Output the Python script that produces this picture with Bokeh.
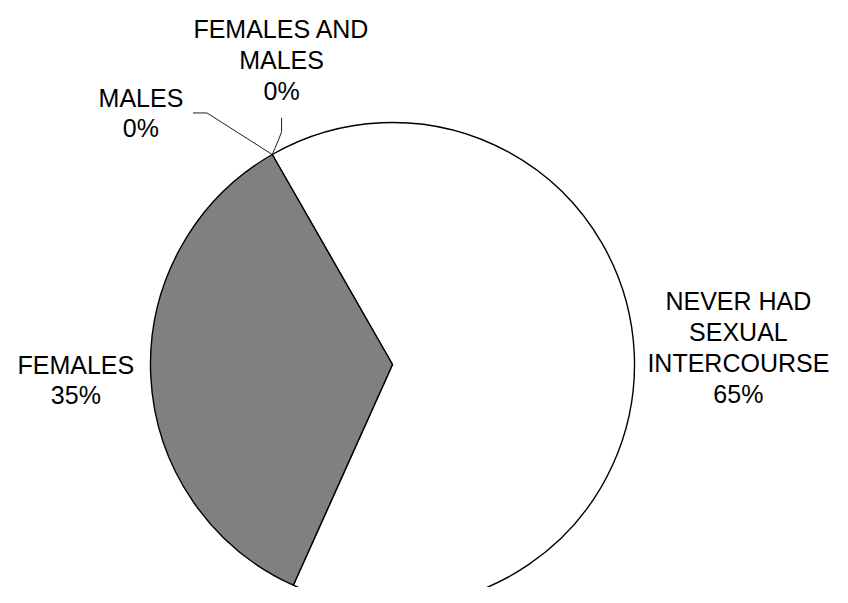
import numpy as np
from bokeh.plotting import figure
from bokeh.models import Range1d, ColumnDataSource
from bokeh.core.properties import value
from bokeh.embed import file_html
from bokeh.resources import INLINE

# ---- data ----
categories = ["NEVER HAD SEXUAL INTERCOURSE", "FEMALES", "MALES", "FEMALES AND MALES"]
label_lines = ["NEVER HAD\nSEXUAL\nINTERCOURSE", "FEMALES", "MALES", "FEMALES AND\nMALES"]
values = [65, 35, 0, 0]
pct_labels = ["65%", "35%", "0%", "0%"]

# ---- style / layout ----
colors = ["#FFFFFF", "#808080", "#808080", "#808080"]
first_slice_deg = 119.8          # where the first slice starts, drawn clockwise
R_PX = 242.0                     # pie radius in pixels
W, H = 832, 587
CX, CY = 392.0, 364.0            # pie centre in figure pixels (from top-left)
label_dist = [1.431, 1.31, 1.47, 1.34]
label_angle_override = [None, None, 135.0, 110.0]
FONT = "Liberation Sans"

vals = np.array(values, dtype=float)
frac = vals / vals.sum()
cum = np.cumsum(frac)
off = np.radians(first_slice_deg)
start = off - 2 * np.pi * (cum - frac)
end = off - 2 * np.pi * cum
mid = (start + end) / 2

x0, x1 = -CX / R_PX, (W - CX) / R_PX
y1, y0 = CY / R_PX, -(H - CY) / R_PX

p = figure(width=W, height=H, x_range=Range1d(x0, x1), y_range=Range1d(y0, y1),
           output_backend="svg", toolbar_location=None, min_border=0)
p.axis.visible = False
p.grid.visible = False
p.outline_line_color = None
p.background_fill_color = "white"
p.border_fill_color = "white"

nz = [i for i in range(len(vals)) if vals[i] > 0]
src = ColumnDataSource(dict(
    start=[start[i] for i in nz], end=[end[i] for i in nz],
    color=[colors[i] for i in nz]))
p.wedge(x=0, y=0, radius=1.0, start_angle="start", end_angle="end",
        direction="clock", fill_color="color", line_color="black",
        line_width=1.4, source=src)

# labels
lx, ly, txt = [], [], []
for i in range(len(vals)):
    a = np.radians(label_angle_override[i]) if label_angle_override[i] is not None else mid[i]
    lx.append(label_dist[i] * np.cos(a))
    ly.append(label_dist[i] * np.sin(a))
    txt.append(label_lines[i] + "\n" + pct_labels[i])
p.text(x=lx, y=ly, text=txt, text_font=value(FONT), text_font_size="25px",
       text_align="center", text_baseline="middle", text_line_height=1.1,
       text_color="black")

# leader lines for the zero-size slices
u = 1.0 / R_PX
ax_, ay_ = np.cos(start[2]), np.sin(start[2])
# MALES
p.line(x=[lx[2] + 52 * u, lx[2] + 66 * u, ax_], y=[ly[2], ly[2], ay_],
       line_color="#202020", line_width=1)
# FEMALES AND MALES
ax3, ay3 = np.cos(start[3]), np.sin(start[3])
p.line(x=[lx[3], lx[3], lx[3] - 3 * u, ax3],
       y=[ly[3] - 58 * u, ly[3] - 72 * u, ly[3] - 80 * u, ay3],
       line_color="#202020", line_width=1)

open("out.html", "w").write(file_html(p, INLINE))
